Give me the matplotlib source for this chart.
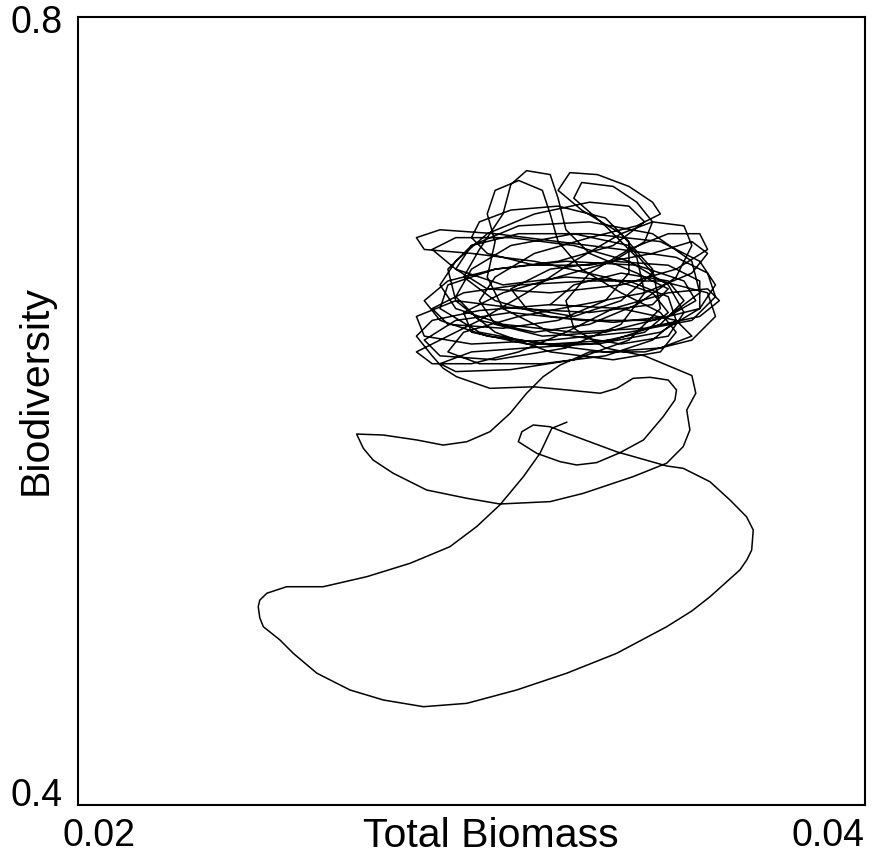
import numpy as np
import matplotlib
matplotlib.use("Agg")
import matplotlib.pyplot as plt

plt.rcParams['font.family'] = ['Liberation Sans', 'DejaVu Sans']

# trayectoria (biomasa total, biodiversidad)
transitorio = [
    (0.03242, 0.5943), (0.03204, 0.5912), (0.03174, 0.5785), (0.03132, 0.5667),
    (0.03072, 0.5523), (0.03013, 0.5413), (0.02945, 0.5311), (0.02844, 0.5227),
    (0.02734, 0.5159), (0.02623, 0.5108), (0.02530, 0.5108), (0.02480, 0.5075),
    (0.02462, 0.5040), (0.02458, 0.5007), (0.02462, 0.4950), (0.02471, 0.4905),
    (0.02513, 0.4838), (0.02547, 0.4770), (0.02607, 0.4669), (0.02691, 0.4584),
    (0.02776, 0.4533), (0.02878, 0.4499), (0.02988, 0.4516), (0.03115, 0.4584),
    (0.03242, 0.4669), (0.03369, 0.4770), (0.03496, 0.4905), (0.03560, 0.4985),
    (0.03606, 0.5057), (0.03682, 0.5193), (0.03700, 0.5245), (0.03712, 0.5294),
    (0.03716, 0.5396), (0.03699, 0.5463), (0.03657, 0.5548), (0.03606, 0.5641),
    (0.03538, 0.5709), (0.03496, 0.5721), (0.03369, 0.5793), (0.03242, 0.5887),
    (0.03200, 0.5920), (0.03157, 0.5929), (0.03128, 0.5895), (0.03119, 0.5844),
    (0.03166, 0.5785), (0.03225, 0.5743), (0.03267, 0.5726), (0.03318, 0.5738),
    (0.03377, 0.5788), (0.03437, 0.5853), (0.03487, 0.5971), (0.03517, 0.6056),
    (0.03521, 0.6107), (0.03500, 0.6157), (0.03454, 0.6171), (0.03411, 0.6166),
    (0.03369, 0.6115), (0.03327, 0.6090), (0.03242, 0.6107), (0.03157, 0.6123),
    (0.03047, 0.6115), (0.02962, 0.6174), (0.02928, 0.6217),
]

maraña_1 = [
    (0.0290, 0.628), (0.0286, 0.638), (0.0290, 0.646), (0.0302, 0.651), (0.0320, 0.654),
    (0.0338, 0.652), (0.0352, 0.646), (0.0356, 0.638), (0.0348, 0.632), (0.0334, 0.630),
    (0.0318, 0.634), (0.0302, 0.640), (0.0292, 0.652), (0.0294, 0.664), (0.0306, 0.672),
    (0.0324, 0.676), (0.0342, 0.674), (0.0354, 0.666), (0.0357, 0.656), (0.0350, 0.648),
    (0.0336, 0.645), (0.0320, 0.648), (0.0306, 0.656), (0.0298, 0.668), (0.0302, 0.682),
    (0.0308, 0.700), (0.0310, 0.715), (0.0314, 0.722), (0.0320, 0.720), (0.0322, 0.708),
    (0.0324, 0.692), (0.0330, 0.680), (0.0342, 0.670), (0.0350, 0.662), (0.0346, 0.654),
    (0.0330, 0.650), (0.0312, 0.652), (0.0296, 0.656), (0.0286, 0.648), (0.0288, 0.638),
    (0.0300, 0.634), (0.0320, 0.636), (0.0340, 0.640), (0.0356, 0.646), (0.0362, 0.658),
    (0.0360, 0.670), (0.0352, 0.678), (0.0338, 0.682), (0.0322, 0.686), (0.0306, 0.690),
    (0.0292, 0.692), (0.0286, 0.688), (0.0288, 0.682), (0.0300, 0.680), (0.0316, 0.676),
    (0.0334, 0.668), (0.0346, 0.660), (0.0350, 0.650), (0.0344, 0.640), (0.0330, 0.634),
    (0.0314, 0.632), (0.0300, 0.630), (0.0292, 0.624), (0.0296, 0.620), (0.0310, 0.621),
    (0.0326, 0.626), (0.0340, 0.636), (0.0348, 0.652), (0.0346, 0.672), (0.0338, 0.690),
    (0.0328, 0.702), (0.0322, 0.712), (0.0325, 0.721), (0.0332, 0.720), (0.0340, 0.714),
    (0.0346, 0.706), (0.0348, 0.700), (0.0342, 0.694), (0.0330, 0.688), (0.0316, 0.680),
    (0.0306, 0.668), (0.0302, 0.656), (0.0306, 0.644), (0.0318, 0.638), (0.0334, 0.640),
    (0.0350, 0.648), (0.0358, 0.660), (0.0356, 0.676), (0.0346, 0.690), (0.0330, 0.696),
    (0.0312, 0.694), (0.0300, 0.684), (0.0296, 0.672), (0.0304, 0.662), (0.0320, 0.660),
    (0.0338, 0.664), (0.0352, 0.672), (0.0360, 0.682), (0.0358, 0.690), (0.0350, 0.690),
    (0.0340, 0.682), (0.0330, 0.670), (0.0324, 0.656), (0.0326, 0.642), (0.0334, 0.632),
    (0.0344, 0.628),
]

bajada = [
    (0.0356, 0.618), (0.0357, 0.609), (0.03547, 0.6005), (0.03555, 0.5904),
    (0.03538, 0.5819), (0.03496, 0.5735), (0.03411, 0.5667), (0.03284, 0.5582),
    (0.03200, 0.5540), (0.03072, 0.5528), (0.02988, 0.5557), (0.02886, 0.5599),
    (0.02801, 0.5684), (0.02750, 0.5751), (0.02725, 0.5811), (0.02708, 0.5883),
    (0.02776, 0.5878), (0.02861, 0.5853), (0.02928, 0.5827), (0.02988, 0.5844),
    (0.03047, 0.5895), (0.03098, 0.5988), (0.03140, 0.6090), (0.03182, 0.6174),
    (0.03225, 0.6233),
]

maraña_2 = [
    (0.0330, 0.630), (0.0344, 0.630), (0.0356, 0.636), (0.0362, 0.648), (0.0360, 0.660),
    (0.0348, 0.666), (0.0330, 0.666), (0.0312, 0.664), (0.0298, 0.660), (0.0290, 0.652),
    (0.0294, 0.644), (0.0308, 0.642), (0.0322, 0.646), (0.0334, 0.656), (0.0340, 0.670),
    (0.0340, 0.686), (0.0334, 0.698), (0.0322, 0.704), (0.0310, 0.702), (0.0302, 0.696),
    (0.0300, 0.688), (0.0304, 0.680), (0.0316, 0.674), (0.0330, 0.674), (0.0346, 0.680),
    (0.0356, 0.686), (0.0360, 0.680), (0.0356, 0.670), (0.0344, 0.660), (0.0328, 0.654),
    (0.0312, 0.648), (0.0298, 0.640), (0.0294, 0.630), (0.0302, 0.624), (0.0318, 0.624),
    (0.0334, 0.628), (0.0346, 0.636), (0.0352, 0.646), (0.0350, 0.658), (0.0340, 0.666),
    (0.0324, 0.668), (0.0308, 0.664), (0.0296, 0.672), (0.0290, 0.682), (0.0296, 0.688),
    (0.0310, 0.688), (0.0326, 0.684), (0.0340, 0.676), (0.0350, 0.664), (0.0354, 0.650),
    (0.0350, 0.638), (0.0338, 0.634), (0.0320, 0.640), (0.0308, 0.652), (0.0304, 0.668),
    (0.0306, 0.686), (0.0304, 0.700), (0.0306, 0.712), (0.0312, 0.717), (0.0318, 0.712),
    (0.0320, 0.700), (0.0322, 0.686), (0.0328, 0.672), (0.0338, 0.660), (0.0348, 0.650),
    (0.0352, 0.640), (0.0348, 0.630), (0.0336, 0.626), (0.0320, 0.630), (0.0306, 0.640),
    (0.0296, 0.656), (0.0294, 0.672), (0.0300, 0.684), (0.0312, 0.690), (0.0330, 0.690),
    (0.0348, 0.686), (0.0358, 0.676), (0.0362, 0.664), (0.0358, 0.652), (0.0346, 0.646),
    (0.0328, 0.646), (0.0310, 0.650), (0.0296, 0.646), (0.0288, 0.636), (0.0292, 0.628),
    (0.0306, 0.626), (0.0324, 0.632), (0.0338, 0.644), (0.0344, 0.660), (0.0342, 0.678),
    (0.0334, 0.694), (0.0326, 0.708), (0.0328, 0.716), (0.0336, 0.714), (0.0342, 0.706),
    (0.0346, 0.696), (0.0344, 0.686), (0.0336, 0.676), (0.0322, 0.668), (0.0308, 0.660),
    (0.0298, 0.650), (0.0300, 0.640), (0.0314, 0.634), (0.0332, 0.634), (0.0348, 0.640),
    (0.0358, 0.652), (0.0358, 0.666), (0.0350, 0.674), (0.0336, 0.676), (0.0320, 0.672),
    (0.0310, 0.662), (0.0314, 0.652), (0.0326, 0.648),
]

maraña_3 = [
    (0.0338, 0.656), (0.0346, 0.670), (0.0340, 0.684), (0.0326, 0.690), (0.0310, 0.684),
    (0.0300, 0.672), (0.0296, 0.658), (0.0302, 0.646), (0.0316, 0.640), (0.0330, 0.644),
    (0.0342, 0.654), (0.0352, 0.668), (0.0356, 0.684), (0.0354, 0.694), (0.0346, 0.696),
    (0.0338, 0.690), (0.0326, 0.676), (0.0314, 0.660), (0.0302, 0.646), (0.0292, 0.636),
    (0.0286, 0.630), (0.0290, 0.624), (0.0300, 0.624), (0.0312, 0.630), (0.0324, 0.640),
    (0.0336, 0.652), (0.0350, 0.660), (0.0360, 0.662), (0.0363, 0.656), (0.0358, 0.648),
    (0.0344, 0.642), (0.0326, 0.640), (0.0308, 0.644), (0.0296, 0.652), (0.0292, 0.664),
    (0.0296, 0.676), (0.0304, 0.690), (0.0316, 0.700), (0.0330, 0.706), (0.0340, 0.704),
    (0.0344, 0.696), (0.0336, 0.684), (0.0322, 0.676), (0.0306, 0.672), (0.0294, 0.666),
    (0.0288, 0.656), (0.0292, 0.646), (0.0304, 0.638), (0.0320, 0.634), (0.0336, 0.636),
    (0.0348, 0.644), (0.0354, 0.656), (0.0350, 0.666), (0.0338, 0.670), (0.0326, 0.664),
    (0.0320, 0.654),
]

tramos = [transitorio, maraña_1, bajada, maraña_2, maraña_3]
puntos = np.array([p for tramo in tramos for p in tramo])
biomasa = puntos[:, 0]
biodiversidad = puntos[:, 1]

W, H = 872, 855
fig = plt.figure(figsize=(W / 100, H / 100), dpi=100)
fig.patch.set_facecolor('white')
ax = fig.add_axes([78 / W, 50 / H, 787 / W, 788 / H])

ax.plot(biomasa, biodiversidad, color='black', linewidth=1.1,
        solid_joinstyle='round')

ax.set_xlim(0.02, 0.04)
ax.set_ylim(0.4, 0.8)
ax.set_xticks([])
ax.set_yticks([])
for lado in ax.spines.values():
    lado.set_linewidth(1.5)
    lado.set_color('black')

# rotulos de los extremos, colocados como en el original
fs_num = 27
fs_txt = 29.5
fig.text(63 / W, 1 - 23 / H, "0.8", ha='right', va='center', fontsize=fs_num)
fig.text(63 / W, 1 - 796 / H, "0.4", ha='right', va='center', fontsize=fs_num)
fig.text(99 / W, 1 - 836 / H, "0.02", ha='center', va='center', fontsize=fs_num)
fig.text(828 / W, 1 - 836 / H, "0.04", ha='center', va='center', fontsize=fs_num)
fig.text(491 / W, 1 - 836 / H, "Total Biomass", ha='center', va='center',
         fontsize=fs_txt)
fig.text(36 / W, 1 - 390 / H, "Biodiversity", ha='center', va='center',
         rotation=90, fontsize=fs_txt)

fig.savefig("out.png", dpi=100)
